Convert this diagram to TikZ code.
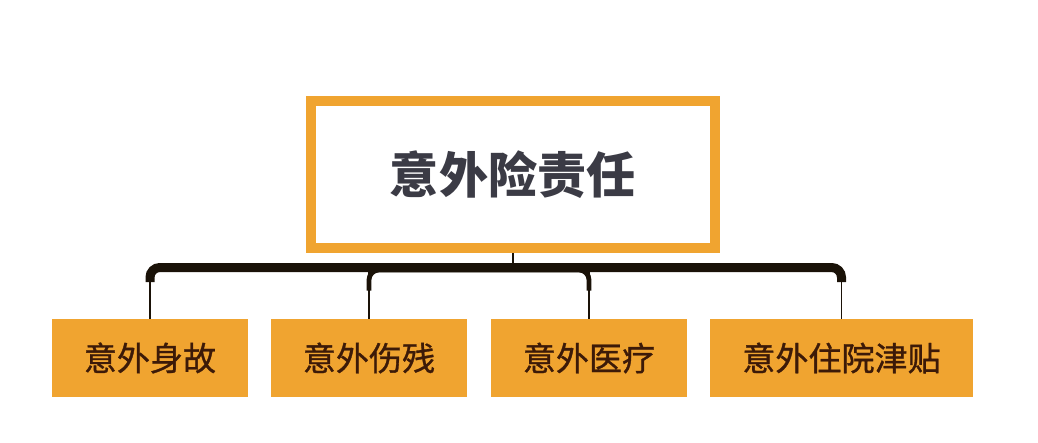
\documentclass[tikz,border=0pt]{standalone}
\usepackage{fontspec}
\newfontfamily\cjk{Noto Sans CJK SC}
\newfontfamily\cjkmid[FakeBold=1]{Noto Sans CJK SC}
\definecolor{accent}{HTML}{F0A430}
\definecolor{titlegray}{HTML}{3B3B45}
\definecolor{itembrown}{HTML}{3C1A08}
\definecolor{busblack}{HTML}{1A1208}
\tikzset{
	title/.style={draw=accent, line width=7pt, fill=white, minimum width=10.1cm, minimum height=3.675cm, text=titlegray, font=\cjk\bfseries\fontsize{35}{40}\selectfont},
	item/.style={fill=accent, minimum height=1.95cm, text=itembrown, font=\cjkmid\fontsize{23.5}{28}\selectfont},
	bus/.style={draw=busblack, line width=6.4pt, rounded corners=7pt},
	branch/.style={draw=busblack, line width=3.4pt, rounded corners=7pt},
	drop/.style={draw=busblack, line width=1.4pt},
}
\begin{document}
\begin{tikzpicture}[x=0.025cm, y=-0.025cm]
	\useasboundingbox (0, 0) rectangle (1038, 442);

	\node[title] (top) at (513, 174.5) {意外险责任};

	\node[item, minimum width=4.9cm] (d1) at (150, 358) {意外身故};
	\node[item, minimum width=4.9cm] (d2) at (369, 358) {意外伤残};
	\node[item, minimum width=4.9cm] (d3) at (589, 358) {意外医疗};
	\node[item, minimum width=6.575cm] (d4) at (841.5, 358) {意外住院津贴};

	\coordinate (bus) at (0, 267.5);

	\draw[drop] (top.south) -- (bus -| top.south);
	\foreach \n in {d1, d2, d3, d4} {
		\draw[drop] (\n.north) -- (bus -| \n.north);
	}

	\draw[bus] ([yshift=26pt]d1.north) |- (bus -| d4.north) -- ([yshift=26pt]d4.north);
	\draw[branch] ([yshift=20pt]d2.north) |- ([yshift=-1.8pt]bus -| d3.north) -- ([yshift=20pt]d3.north);
\end{tikzpicture}
\end{document}
